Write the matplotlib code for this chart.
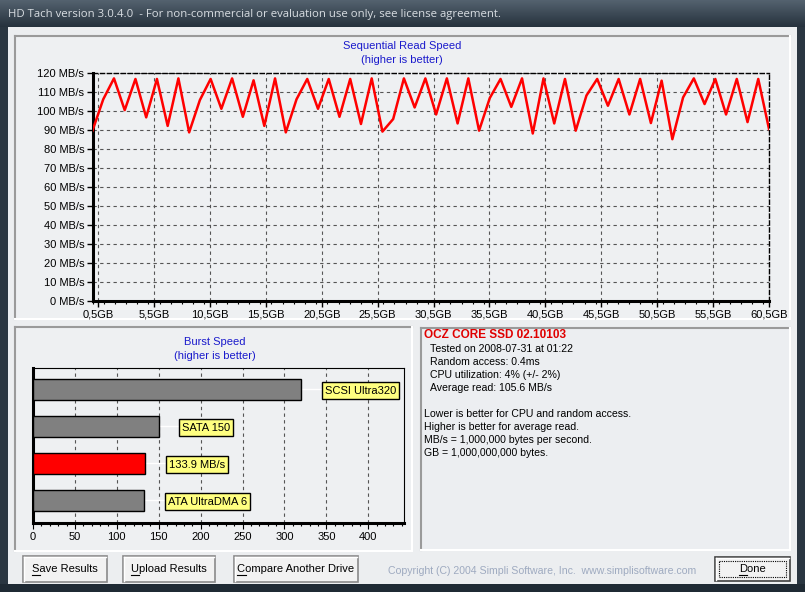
import numpy as np
import matplotlib.pyplot as plt
from matplotlib.patches import Rectangle
from matplotlib.ticker import MultipleLocator

plt.rcParams['font.family'] = ['Liberation Sans', 'DejaVu Sans']

W, H = 805, 592

# sequential read speed (MB/s), 64 samples over the drive
read_speed = [89.5, 106, 117, 100.3, 116.7, 96.5, 116.7, 92, 117, 88.6,
              105.6, 116.7, 101, 117, 96.8, 116, 92, 117, 88.6, 106,
              116.7, 101, 116.7, 96.8, 116.7, 93, 117, 89, 95.6, 117,
              101.7, 117, 98, 117, 93.3, 117, 89.5, 106.7, 116.7, 102,
              117, 88, 117, 93.3, 116.7, 89.5, 108, 116.7, 102.6, 116.7,
              98, 116.7, 93.5, 115.8, 85, 107, 117, 103.5, 116.7, 98,
              116.7, 94, 116.7, 90.4]
gb_ticks = [0.5, 5.5, 10.5, 15.5, 20.5, 25.5, 30.5, 35.5, 40.5, 45.5, 50.5, 55.5, 60.5]
gb_labels = ['0,5GB', '5,5GB', '10,5GB', '15,5GB', '20,5GB', '25,5GB', '30,5GB',
             '35,5GB', '40,5GB', '45,5GB', '50,5GB', '55,5GB', '60,5GB']
speed_ticks = [0, 10, 20, 30, 40, 50, 60, 70, 80, 90, 100, 110, 120]

burst_names = ['SCSI Ultra320', 'SATA 150', '133.9 MB/s', 'ATA UltraDMA 6']
burst_values = [320, 150, 133.9, 133]
burst_colors = ['#808080', '#808080', '#ff0000', '#808080']
burst_ticks = [0, 50, 100, 150, 200, 250, 300, 350, 400]

info_title = 'OCZ CORE SSD 02.10103'
info_lines = ['Tested on 2008-07-31 at 01:22',
              'Random access: 0.4ms',
              'CPU utilization: 4% (+/- 2%)',
              'Average read: 105.6 MB/s']
note_lines = ['Lower is better for CPU and random access.',
              'Higher is better for average read.',
              'MB/s = 1,000,000 bytes per second.',
              'GB = 1,000,000,000 bytes.']
button_names = ['Save Results', 'Upload Results', 'Compare Another Drive']

client_col = '#eceef0'
panel_col = '#eef0f2'
blue = '#1a1acc'


def box(l, t, r, b):
    return [l / W, 1 - b / H, (r - l) / W, (b - t) / H]


def sunken(ax, l, t, r, b, face=panel_col):
    ax.add_patch(Rectangle((l, t), r - l, b - t, fc=face, ec='none'))
    ax.plot([l, r], [t, t], color='#9a9a9a', lw=1.5)
    ax.plot([l, l], [t, b], color='#9a9a9a', lw=1.5)
    ax.plot([l, r], [b, b], color='white', lw=1.5)
    ax.plot([r, r], [t, b], color='white', lw=1.5)


def button(ax, l, t, r, b, label, done=False):
    ax.add_patch(Rectangle((l, t), r - l, b - t, fc='#f2f2f2',
                           ec='#404040' if done else '#8a8a8a', lw=1.2))
    ax.plot([l + 1, r - 1], [t + 1, t + 1], color='white', lw=1)
    ax.plot([l + 1, l + 1], [t + 1, b - 1], color='white', lw=1)
    if done:
        ax.add_patch(Rectangle((l + 4, t + 4), r - l - 8, b - t - 8, fc='none',
                               ec='black', lw=0.8, ls=(0, (1, 1))))
    cx, cy = (l + r) / 2, (t + b) / 2
    txt = ax.text(cx, cy, label, ha='center', va='center', fontsize=8)
    # underline the access key letter
    fig.canvas.draw()
    ext = txt.get_window_extent()
    first = ax.text(0, 0, label[0], fontsize=8)
    w1 = first.get_window_extent().width
    first.remove()
    x0 = ext.x0 * W / fig.bbox.width
    ax.plot([x0, x0 + w1 * W / fig.bbox.width], [cy + 6, cy + 6], color='black', lw=0.8)


fig = plt.figure(figsize=(W / 100, H / 100), dpi=100)
bg = fig.add_axes([0, 0, 1, 1])
bg.axis('off')

# window frame
grad = np.linspace(0, 1, 50).reshape(-1, 1)
bg.imshow(grad, extent=(0, W, 27, 0), aspect='auto',
          cmap=plt.matplotlib.colors.LinearSegmentedColormap.from_list('t', ['#54626f', '#26323d']))
bg.add_patch(Rectangle((0, 27), 8, H - 27, fc='#2a3641', ec='none'))
bg.add_patch(Rectangle((797, 27), 8, H - 27, fc='#2a3641', ec='none'))
bg.add_patch(Rectangle((0, 584), W, 8, fc='#1f2a34', ec='none'))
bg.add_patch(Rectangle((8, 27), 789, 557, fc=client_col, ec='none'))
bg.text(8, 14, 'HD Tach version 3.0.4.0  - For non-commercial or evaluation use only, see license agreement.',
        color='#d8dde2', fontsize=8.2, va='center', ha='left', family=['Open Sans', 'DejaVu Sans'])

# panels
sunken(bg, 15, 36, 790, 319)
sunken(bg, 15, 327, 412, 551)
sunken(bg, 421, 328, 790, 550, face='#eceef1')

bg.text(402, 46, 'Sequential Read Speed', color=blue, fontsize=8, ha='center', va='center')
bg.text(402, 60, '(higher is better)', color=blue, fontsize=8, ha='center', va='center')
bg.text(215, 342, 'Burst Speed', color=blue, fontsize=8, ha='center', va='center')
bg.text(215, 356, '(higher is better)', color=blue, fontsize=8, ha='center', va='center')

# info text
bg.text(424, 335, info_title, color='#e00000', fontsize=8.5, fontweight='bold', va='center')
for i, line in enumerate(info_lines):
    bg.text(430, 349 + 13 * i, line, fontsize=7.6, va='center')
for i, line in enumerate(note_lines):
    bg.text(424, 414 + 13 * i, line, fontsize=7.6, va='center')

bg.text(542, 571, 'Copyright (C) 2004 Simpli Software, Inc.  www.simplisoftware.com',
        color='#9eaac0', fontsize=7.6, ha='center', va='center')

bg.set_xlim(0, W)
bg.set_ylim(H, 0)

for (l, r), name in zip([(23, 107), (123, 215), (234, 358)], button_names):
    button(bg, l, 556, r, 582, name)
button(bg, 715, 557, 790, 581, 'Done', done=True)

# sequential read chart
ax = fig.add_axes(box(92.5, 72.7, 769, 300.7))
ax.set_facecolor(panel_col)
pos = np.linspace(0, 60.5, len(read_speed))
ax.plot(pos, read_speed, color='#ff0000', lw=1.8, zorder=3)
ax.set_xlim(0, 60.5)
ax.set_ylim(0, 120)
ax.set_xticks(gb_ticks)
ax.set_xticklabels(gb_labels, fontsize=8)
ax.xaxis.set_minor_locator(MultipleLocator(1))
ax.set_yticks(speed_ticks)
ax.set_yticklabels([f'{v} MB/s' for v in speed_ticks], fontsize=8)
ax.tick_params(axis='both', which='major', direction='out', length=4, width=1, pad=2)
ax.tick_params(axis='x', which='minor', direction='out', length=2.5, width=0.8)
ax.grid(True, which='major', color='#555555', ls=(0, (3, 3)), lw=0.8)
for s in ['left', 'bottom']:
    ax.spines[s].set_linewidth(2.2)
for s in ['top', 'right']:
    ax.spines[s].set_linestyle((0, (3, 2)))
    ax.spines[s].set_linewidth(1)

# burst speed chart
bx = fig.add_axes(box(33, 368.3, 403.5, 522.7))
bx.set_facecolor(panel_col)
ypos = np.arange(len(burst_values))
bx.barh(ypos, burst_values, height=0.57, color=burst_colors, edgecolor='black', lw=1, zorder=3)
for y, v, name in zip(ypos, burst_values, burst_names):
    bx.plot([v, v + 24], [y, y], color='white', lw=1, zorder=2)
    bx.text(v + 28, y + 0.03, name, fontsize=8, va='center', ha='left', zorder=4,
            bbox=dict(boxstyle='square,pad=0.28', fc='#ffff80', ec='black', lw=1))
bx.set_xlim(0, 442)
bx.set_ylim(3.6, -0.57)
bx.set_yticks([])
bx.set_xticks(burst_ticks)
bx.set_xticklabels([str(t) for t in burst_ticks], fontsize=8)
bx.xaxis.set_minor_locator(MultipleLocator(10))
bx.tick_params(axis='x', which='major', direction='out', length=4, pad=3)
bx.tick_params(axis='x', which='minor', direction='out', length=2.5, width=0.8)
for t in burst_ticks[1:]:
    bx.axvline(t, color='#555555', ls=(0, (3, 3)), lw=0.8, zorder=1)
bx.spines['bottom'].set_linewidth(2.2)
bx.spines['left'].set_linewidth(2.2)

fig.savefig('out.png', dpi=100)
